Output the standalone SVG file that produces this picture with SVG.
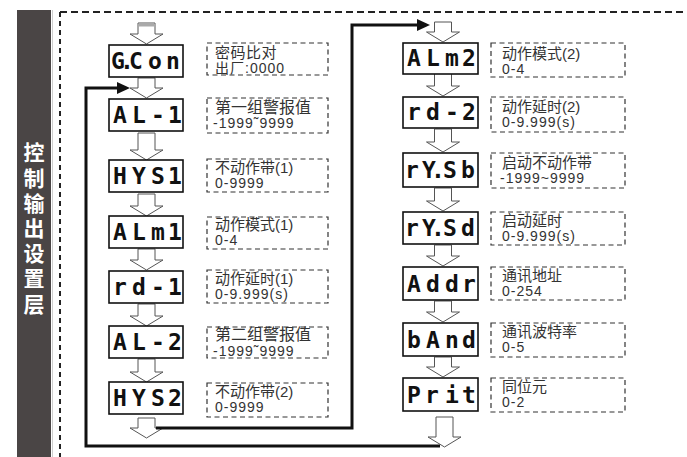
<svg xmlns="http://www.w3.org/2000/svg" width="687" height="457" viewBox="0 0 687 457">
<defs>
<marker id="ah" markerUnits="userSpaceOnUse" markerWidth="14" markerHeight="13" refX="0" refY="6" orient="auto">
<path d="M0,0 L13,6 L0,12 z" fill="#111"/>
</marker>
<style>
.disp{fill:#fff;stroke:#111;stroke-width:1.6}
.seg{font-family:"DejaVu Sans Mono",monospace;font-weight:bold;font-size:23px;fill:#111;text-anchor:middle}
.desc{fill:none;stroke:#333;stroke-width:1.2;stroke-dasharray:5 3.5}
.t1{font-family:"Liberation Sans","Noto Sans CJK SC",sans-serif;font-size:15px;fill:#333}
.t2{font-family:"Liberation Sans","Noto Sans CJK SC",sans-serif;font-size:14px;fill:#333;letter-spacing:1px}
.arr{fill:#fff;stroke:#555;stroke-width:1}
.conn{fill:none;stroke:#111;stroke-width:3}
.title{font-family:"Noto Sans CJK SC",sans-serif;font-weight:bold;font-size:21px;fill:#fff;writing-mode:vertical-rl;letter-spacing:4.2px}
</style>
</defs>
<rect width="687" height="457" fill="#fff"/>

<g id="sidebar">
<rect x="17" y="10" width="34" height="447" fill="#4a4545"/>
<line x1="52.5" y1="10" x2="52.5" y2="457" stroke="#cfcfcf" stroke-width="1"/>
<text class="title" x="34" y="142">控制输出设置层</text>
</g>

<g id="frame">
<line x1="60" y1="12" x2="687" y2="12" stroke="#222" stroke-width="2" stroke-dasharray="7 4"/>
<line x1="60" y1="12" x2="60" y2="457" stroke="#222" stroke-width="2" stroke-dasharray="5 4"/>
</g>

<g id="arrows">
<polygon class="arr" points="138,23 155,23 155,34 163,34 146.5,44 130,34 138,34"/>
<rect x="138.5" y="23.5" width="16" height="3" fill="#aaa"/>
<polygon class="arr" points="138,78 155,78 155,88 163,88 146.5,98 130,88 138,88"/>
<polygon class="arr" points="138,133 155,133 155,150 163,150 146.5,160 130,150 138,150"/>
<polygon class="arr" points="138,194 155,194 155,206 163,206 146.5,216 130,206 138,206"/>
<polygon class="arr" points="138,249 155,249 155,260 163,260 146.5,270 130,260 138,260"/>
<polygon class="arr" points="138,304 155,304 155,316 163,316 146.5,326 130,316 138,316"/>
<polygon class="arr" points="138,359 155,359 155,372 163,372 146.5,382 130,372 138,372"/>
<polygon class="arr" points="138,418 155,418 155,428 163,428 146.5,438 130,428 138,428"/>

<polygon class="arr" points="434.5,22 451.5,22 451.5,32 459.5,32 443,42 426.5,32 434.5,32"/>
<polygon class="arr" points="434.5,73 451.5,73 451.5,86 459.5,86 443,96 426.5,86 434.5,86"/>
<polygon class="arr" points="434.5,129 451.5,129 451.5,142 459.5,142 443,152 426.5,142 434.5,142"/>
<polygon class="arr" points="434.5,188 451.5,188 451.5,201 459.5,201 443,211 426.5,201 434.5,201"/>
<polygon class="arr" points="434.5,245 451.5,245 451.5,256 459.5,256 443,266 426.5,256 434.5,256"/>
<polygon class="arr" points="434.5,301 451.5,301 451.5,312 459.5,312 443,322 426.5,312 434.5,312"/>
<polygon class="arr" points="434.5,357 451.5,357 451.5,367 459.5,367 443,377 426.5,367 434.5,367"/>
<polygon class="arr" points="436,417 453,417 453,437 461,437 444.5,447 428,437 436,437"/>
</g>

<g id="connectors">
<path class="conn" d="M156 428 H352 V25 H417" marker-end="url(#ah)"/>
<path class="conn" d="M440 446 H86 V88 H117" marker-end="url(#ah)"/>
</g>

<g id="n-gcon">
<rect class="disp" x="109" y="45" width="74" height="32"/>
<text class="seg" x="118 127 136 155 173" y="69">G.Con</text>
<rect class="desc" x="207" y="43" width="121" height="32"/>
<text class="t1" x="215" y="58" style="letter-spacing:0.5px">密码比对</text>
<text class="t2" x="215" y="73">出厂:0000</text>
</g>

<g id="n-al1">
<rect class="disp" x="109" y="99" width="74" height="32"/>
<text class="seg" x="120 139 158 175" y="123">AL-1</text>
<rect class="desc" x="207" y="98" width="121" height="35"/>
<text class="t1" x="215" y="113" style="font-size:16px">第一组警报值</text>
<text class="t2" x="213" y="128">-1999˜9999</text>
</g>

<g id="n-hys1">
<rect class="disp" x="109" y="160" width="74" height="32"/>
<text class="seg" x="120 139 158 175" y="184">HYS1</text>
<rect class="desc" x="207" y="159" width="121" height="33"/>
<text class="t1" x="215" y="173">不动作带(1)</text>
<text class="t2" x="215" y="188">0-9999</text>
</g>

<g id="n-alm1">
<rect class="disp" x="109" y="216" width="74" height="32"/>
<text class="seg" x="120 139 158 175" y="240">ALm1</text>
<rect class="desc" x="207" y="217" width="121" height="32"/>
<text class="t1" x="215" y="230">动作模式(1)</text>
<text class="t2" x="215" y="245">0-4</text>
</g>

<g id="n-rd1">
<rect class="disp" x="109" y="271" width="74" height="32"/>
<text class="seg" x="120 139 158 175" y="295">rd-1</text>
<rect class="desc" x="207" y="270" width="121" height="33"/>
<text class="t1" x="215" y="284">动作延时(1)</text>
<text class="t2" x="215" y="299">0-9.999(s)</text>
</g>

<g id="n-al2">
<rect class="disp" x="109" y="326" width="74" height="32"/>
<text class="seg" x="120 139 158 175" y="350">AL-2</text>
<rect class="desc" x="207" y="327" width="121" height="31"/>
<text class="t1" x="215" y="340" style="font-size:16px">第二组警报值</text>
<text class="t2" x="213" y="355.5">-1999˜9999</text>
</g>

<g id="n-hys2">
<rect class="disp" x="109" y="382" width="74" height="32"/>
<text class="seg" x="120 139 158 175" y="406">HYS2</text>
<rect class="desc" x="207" y="383" width="121" height="34"/>
<text class="t1" x="215" y="397">不动作带(2)</text>
<text class="t2" x="215" y="412">0-9999</text>
</g>

<g id="n-alm2">
<rect class="disp" x="403" y="43" width="75" height="31"/>
<text class="seg" x="414 433 452 469" y="66">ALm2</text>
<rect class="desc" x="491" y="43" width="134" height="34"/>
<text class="t1" x="502" y="59">动作模式(2)</text>
<text class="t2" x="502" y="74">0-4</text>
</g>

<g id="n-rd2">
<rect class="disp" x="403" y="97" width="75" height="31"/>
<text class="seg" x="414 433 452 469" y="120">rd-2</text>
<rect class="desc" x="491" y="97" width="134" height="35"/>
<text class="t1" x="502" y="112">动作延时(2)</text>
<text class="t2" x="502" y="127">0-9.999(s)</text>
</g>

<g id="n-rysb">
<rect class="disp" x="403" y="153" width="75" height="34"/>
<text class="seg" x="412 429 438 450 468" y="178">rY.Sb</text>
<rect class="desc" x="491" y="153" width="134" height="35"/>
<text class="t1" x="502" y="168">启动不动作带</text>
<text class="t2" x="500" y="183">-1999~9999</text>
</g>

<g id="n-rysd">
<rect class="disp" x="403" y="212" width="75" height="32"/>
<text class="seg" x="412 429 438 450 468" y="236">rY.Sd</text>
<rect class="desc" x="491" y="212" width="134" height="33"/>
<text class="t1" x="502" y="226">启动延时</text>
<text class="t2" x="502" y="241">0-9.999(s)</text>
</g>

<g id="n-addr">
<rect class="disp" x="403" y="267" width="75" height="33"/>
<text class="seg" x="414 433 452 469" y="292">Addr</text>
<rect class="desc" x="491" y="267" width="134" height="33"/>
<text class="t1" x="502" y="281">通讯地址</text>
<text class="t2" x="502" y="296">0-254</text>
</g>

<g id="n-band">
<rect class="disp" x="403" y="323" width="75" height="33"/>
<text class="seg" x="414 433 452 469" y="348">bAnd</text>
<rect class="desc" x="491" y="323" width="134" height="34"/>
<text class="t1" x="502" y="337">通讯波特率</text>
<text class="t2" x="502" y="352">0-5</text>
</g>

<g id="n-prit">
<rect class="disp" x="403" y="378" width="75" height="33"/>
<text class="seg" x="414 432 452 469" y="403">Prit</text>
<rect class="desc" x="491" y="378" width="134" height="34"/>
<text class="t1" x="502" y="392">同位元</text>
<text class="t2" x="502" y="407">0-2</text>
</g>
</svg>
